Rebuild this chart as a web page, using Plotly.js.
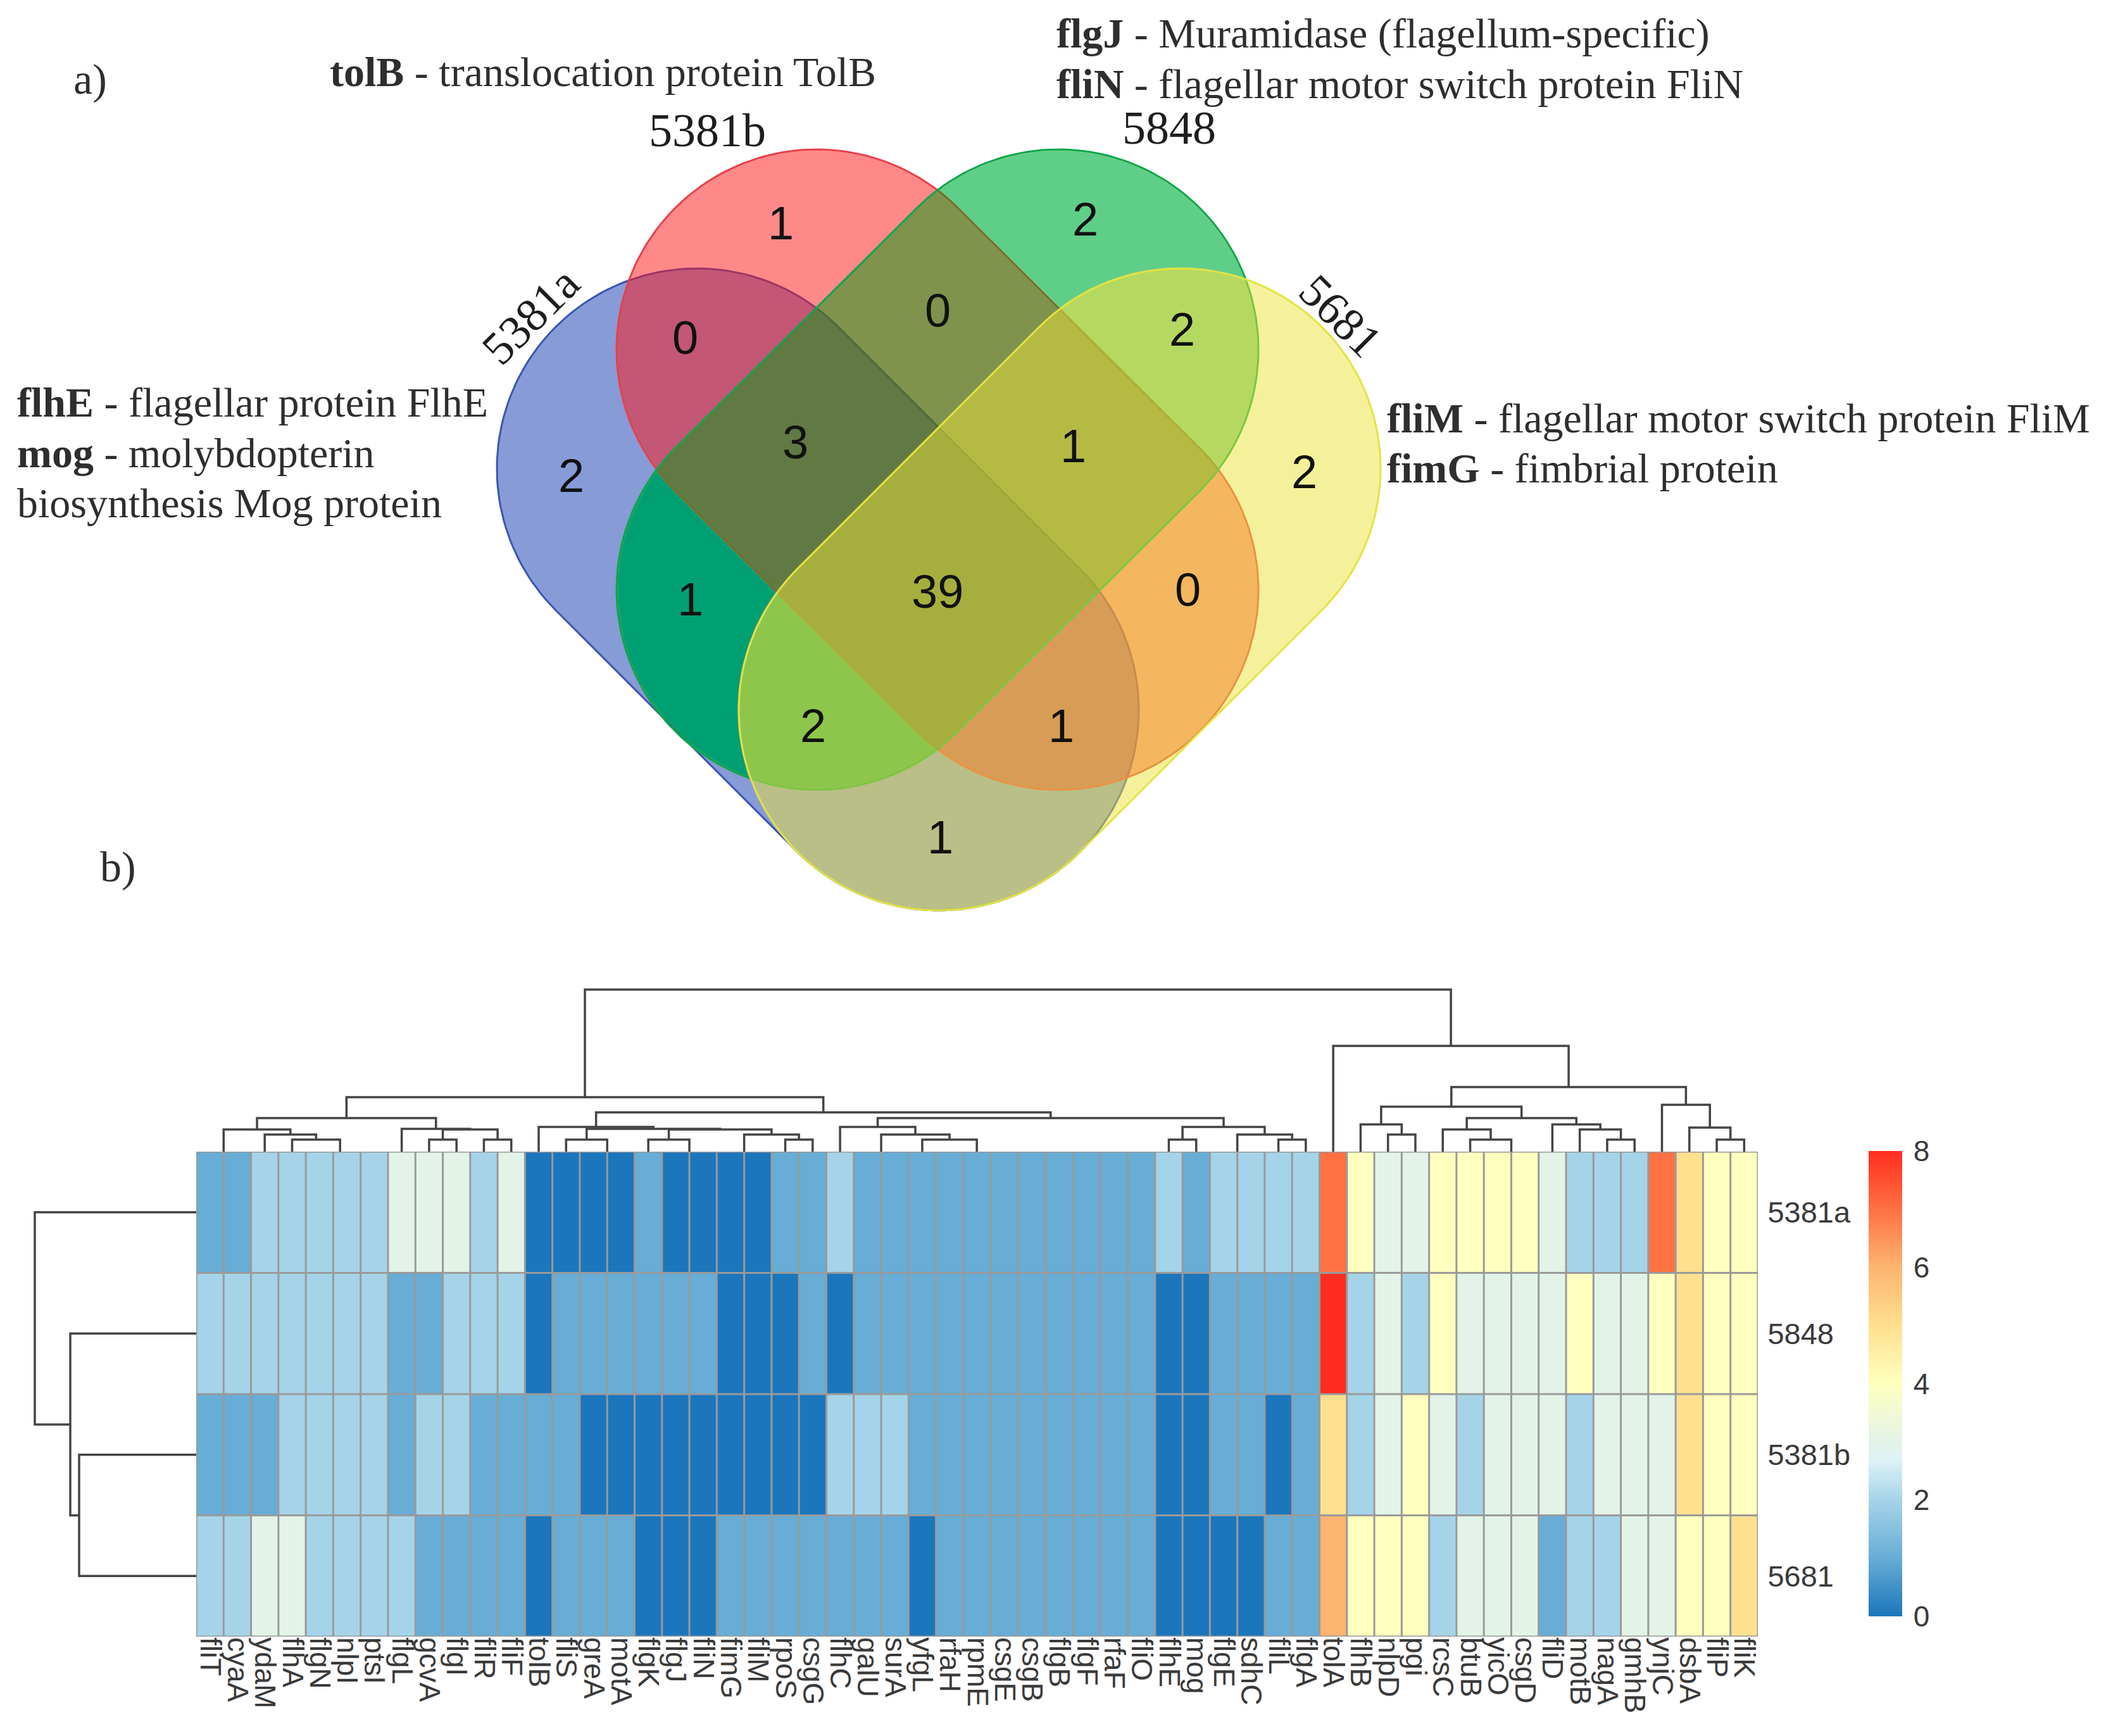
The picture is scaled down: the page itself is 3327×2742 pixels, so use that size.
<!DOCTYPE html>
<html><head><meta charset="utf-8">
<script src="https://cdn.plot.ly/plotly-3.0.1.min.js"></script>
<style>html,body{margin:0;padding:0;background:#fff}</style></head>
<body><div id="chart" style="width:3327px;height:2742px"></div>
<script>
// ---------- data ----------
const genes = ["fliT","cyaA","ydaM","flhA","flgN","nlpI","ptsI","flgL","gcvA","flgI","fliR","fliF","tolB","fliS","greA","motA","flgK","flgJ","fliN","fimG","fliM","rpoS","csgG","flhC","galU","surA","yfgL","rfaH","rpmE","csgE","csgB","flgB","flgF","rfaF","fliO","flhE","mog","flgE","sdhC","fliL","flgA","tolA","flhB","nlpD","pgi","rcsC","btuB","yicO","csgD","fliD","motB","nagA","gmhB","ynjC","dsbA","fliP","fliK"];
const strains = ["5381a","5848","5381b","5681"];
const row5381a = [1,1,2,2,2,2,2,3,3,3,2,3,0,0,0,0,1,0,0,0,0,1,1,2,1,1,1,1,1,1,1,1,1,1,1,2,1,2,2,2,2,7,4,3,3,4,4,4,4,3,2,2,2,7,5,4,4];
const row5848  = [2,2,2,2,2,2,2,1,1,2,2,2,0,1,1,1,1,1,1,0,0,0,1,0,1,1,1,1,1,1,1,1,1,1,1,0,0,1,1,1,1,8,2,3,2,4,3,3,3,3,4,3,3,4,5,4,4];
const row5381b = [1,1,1,2,2,2,2,1,2,2,1,1,1,1,0,0,0,0,0,0,0,0,0,2,2,2,1,1,1,1,1,1,1,1,1,0,0,1,1,0,1,5,2,3,4,3,2,3,3,3,2,3,3,3,5,4,4];
const row5681  = [2,2,3,3,2,2,2,2,1,1,1,1,0,1,1,1,0,0,0,1,1,1,1,1,1,1,0,1,1,1,1,1,1,1,1,0,0,0,0,1,1,6,4,4,4,2,3,3,3,1,2,2,3,3,4,4,5];

// column dendrogram, hclust encoding: negative = leaf, positive = earlier merge
const colMergeLeft  = [-1,-6,-5,-4,-3,1,-9,-11,7,-8,6,-15,-14,-18,-17,-20,-22,16,15,13,-13,-25,-34,-33,-32,-31,-30,-29,-28,-27,22,-24,-36,-38,-40,34,33,32,21,11,-44,-43,-48,-47,-46,-52,-51,-50,45,42,-56,-55,-54,50,-42,40];
const colMergeRight = [-2,-7,2,3,4,5,-10,-12,8,9,10,-16,12,-19,14,-21,-23,17,18,19,20,-26,-35,23,24,25,26,27,28,29,30,31,-37,-39,-41,35,36,37,38,39,-45,41,-49,43,44,-53,46,47,48,49,-57,51,52,53,54,55];
const colMergeHeight= [0,0,0,19,27,35,19,19,35,36,53,0,19,0,19,0,19,27,35,36,39,0,0,0,0,0,0,0,0,19,27,39,19,0,19,27,39,53,62,86,27,43,0,19,35,19,35,43,53,71,19,38,74,102,167,256];
const rowMergeLeft  = [-3,-2,-1];
const rowMergeRight = [-4,1,2];
const rowMergeHeight= [185,199,255];

const colorStops  = [0,1,2,2.7,3,4,5,6,7,8];
const colorValues = ["#1b76bc","#67add5","#a5d4e9","#dff2f6","#e3f3e8","#ffffbf","#fee08f","#fdb471","#ff7143","#ff2d1f"];
const colorTicks  = [0,2,4,6,8];

const vennCounts = ["1","0","0","2","2","2","3","1","2","1","39","0","2","1","1"];
const vennCountX = [1233,1082,1481,1714,1867,902,1256,1695,2060,1090,1481,1876,1284,1676,1485];
const vennCountY = [352,533,490,346,520,751,698,704,745,946,934,931,1146,1146,1322];

const notes = [
 ["a)",114,125,68],
 ["<b>tolB</b> - translocation protein TolB",519,113,66],
 ["<b>flgJ</b> - Muramidase (flagellum-specific)",1667,53,66],
 ["<b>fliN</b> - flagellar motor switch protein FliN",1667,132,66],
 ["<b>flhE</b> - flagellar protein FlhE",25,635,66],
 ["<b>mog</b> - molybdopterin",25,715,66],
 ["biosynthesis Mog protein",25,794,66],
 ["<b>fliM</b> - flagellar motor switch protein FliM",2189,660,66],
 ["<b>fimG</b> - fimbrial protein",2189,739,66],
 ["b)",156,1369,68]
];
const setLabels = [["5381b",1117,206,0],["5848",1847,202,0],["5381a",838,499,-45],["5681",2118,499,45]];

// ---------- venn geometry (stadiums on the page-pixel axes) ----------
const W=3327,H=2742,R=316;
const sets = {
 blue:  {a:[1101,740], b:[1483,1122], fill:"rgba(15,55,175,0.5)",  line:"#3a55b5"},
 red:   {a:[1290,552], b:[1672,931.5],fill:"rgba(255,19,19,0.5)",  line:"#e8404a"},
 green: {a:[1672,552], b:[1290,931.5],fill:"rgba(0,157,17,0.5)",   line:"#0aa84a"},
 yellow:{a:[1865,740], b:[1483,1122], fill:"rgba(235,227,55,0.5)", line:"#e3e342"}
};
const setNames=["blue","red","green","yellow"];
function stadium(s){
  const ang=Math.atan2(s.b[1]-s.a[1],s.b[0]-s.a[0]);
  const xs=[],ys=[];
  for(let i=0;i<=90;i++){const t=ang+Math.PI/2+Math.PI*i/90;xs.push(s.a[0]+R*Math.cos(t));ys.push(s.a[1]+R*Math.sin(t));}
  for(let i=0;i<=90;i++){const t=ang-Math.PI/2+Math.PI*i/90;xs.push(s.b[0]+R*Math.cos(t));ys.push(s.b[1]+R*Math.sin(t));}
  xs.push(xs[0]);ys.push(ys[0]);
  return {xs,ys};
}
function dist(s,p){
  const vx=s.b[0]-s.a[0],vy=s.b[1]-s.a[1];
  let t=((p[0]-s.a[0])*vx+(p[1]-s.a[1])*vy)/(vx*vx+vy*vy);t=Math.max(0,Math.min(1,t));
  return Math.hypot(p[0]-s.a[0]-t*vx,p[1]-s.a[1]-t*vy);
}
function rayRegion(seed,pred){
  const xs=[],ys=[];
  for(let k=0;k<=720;k++){
    const t=k/720*2*Math.PI;let r=0;
    while(r<900 && pred([seed[0]+(r+1)*Math.cos(t),seed[1]+(r+1)*Math.sin(t)])) r+=1;
    xs.push(seed[0]+r*Math.cos(t));ys.push(seed[1]+r*Math.sin(t));
  }
  return {xs,ys};
}
const traces=[];
setNames.forEach(k=>{
  const p=stadium(sets[k]);
  traces.push({type:"scatter",mode:"lines",x:p.xs,y:p.ys,xaxis:"x",yaxis:"y",fill:"toself",fillcolor:sets[k].fill,line:{color:sets[k].line,width:3},hoverinfo:"skip",showlegend:false});
});
// regions whose tint in the reference is not a plain stack of the four fills
[
 {seed:[1090,946], inside:["blue","green"], color:"rgb(0,160,115)"},
 {seed:[1714,346], inside:["green"], color:"rgb(95,206,136)"},
 {seed:[1284,1146],inside:["blue","green","yellow"], color:"rgb(142,198,76)"}
].forEach(g=>{
  const poly=rayRegion(g.seed,p=>setNames.every(k=>g.inside.includes(k)?dist(sets[k],p)<R-2:dist(sets[k],p)>R+2));
  traces.push({type:"scatter",mode:"lines",x:poly.xs,y:poly.ys,xaxis:"x",yaxis:"y",fill:"toself",fillcolor:g.color,line:{width:0,color:"rgba(0,0,0,0)"},hoverinfo:"skip",showlegend:false});
});

// ---------- heatmap ----------
const cols=genes.map((_,i)=>i), rows=strains.map((_,i)=>i);
const cs=colorStops.map((v,i)=>[v/8,colorValues[i]]);
traces.push({type:"heatmap",x:cols,y:rows,z:[row5381a,row5848,row5381b,row5681],xaxis:"x2",yaxis:"y2",zmin:0,zmax:8,colorscale:cs,hoverinfo:"skip",
  colorbar:{x:2952/W,xanchor:"left",xpad:0,y:1-1818/H,yanchor:"top",ypad:0,thickness:53,thicknessmode:"pixels",len:735,lenmode:"pixels",outlinewidth:0,
    tickvals:colorTicks,ticktext:colorTicks.map(String),ticks:"outside",ticklen:9,tickcolor:"rgba(0,0,0,0)",tickfont:{family:"Liberation Sans",size:46,color:"#3a3a3a"}}});
const gx=[],gy=[];
for(let i=0;i<=genes.length;i++){gx.push(i-.5,i-.5,null);gy.push(-.5,strains.length-.5,null);}
for(let j=0;j<=strains.length;j++){gx.push(-.5,genes.length-.5,null);gy.push(j-.5,j-.5,null);}
traces.push({type:"scatter",mode:"lines",x:gx,y:gy,xaxis:"x2",yaxis:"y2",cliponaxis:false,line:{color:"#9a9a9a",width:3},hoverinfo:"skip",showlegend:false});

// ---------- dendrograms ----------
function dendro(L,Rt,Ht){
  const pos=[],p=[],h=[];
  L.forEach((l,i)=>{
    const r=Rt[i];
    const pl=l<0?-l-1:pos[l-1], pr=r<0?-r-1:pos[r-1];
    const hl=l<0?0:Ht[l-1], hr=r<0?0:Ht[r-1];
    pos.push((pl+pr)/2);
    if(Ht[i]>0){p.push(pl,pl,pr,pr,null);h.push(hl,Ht[i],Ht[i],hr,null);}
  });
  return {p,h};
}
const dc=dendro(colMergeLeft,colMergeRight,colMergeHeight);
traces.push({type:"scatter",mode:"lines",x:dc.p,y:dc.h,xaxis:"x2",yaxis:"y3",cliponaxis:false,line:{color:"#444",width:3.5},hoverinfo:"skip",showlegend:false});
const dr=dendro(rowMergeLeft,rowMergeRight,rowMergeHeight);
traces.push({type:"scatter",mode:"lines",x:dr.h,y:dr.p,xaxis:"x3",yaxis:"y2",cliponaxis:false,line:{color:"#444",width:3.5},hoverinfo:"skip",showlegend:false});

// ---------- text ----------
const ann=[];
vennCounts.forEach((t,i)=>ann.push({text:t,x:vennCountX[i],y:vennCountY[i],xref:"x",yref:"y",showarrow:false,xanchor:"center",yanchor:"middle",font:{family:"Liberation Sans",size:74,color:"#111"}}));
notes.forEach(n=>ann.push({text:n[0],x:n[1],y:n[2],xref:"x",yref:"y",showarrow:false,xanchor:"left",yanchor:"middle",align:"left",font:{family:"Liberation Serif",size:n[3],color:"#2e2e2e"}}));
setLabels.forEach(n=>ann.push({text:n[0],x:n[1],y:n[2],xref:"x",yref:"y",showarrow:false,xanchor:"center",yanchor:"middle",textangle:n[3],font:{family:"Liberation Serif",size:74,color:"#1e1e1e"}}));

const hidden={visible:false,showgrid:false,zeroline:false};
const layout={
  width:W,height:H,margin:{l:0,r:0,t:0,b:0,pad:0,autoexpand:false},paper_bgcolor:"#fff",plot_bgcolor:"rgba(0,0,0,0)",showlegend:false,
  xaxis:{...hidden,domain:[0,1],range:[0,W],anchor:"y"},
  yaxis:{...hidden,domain:[0,1],range:[H,0],anchor:"x"},
  xaxis2:{domain:[310/W,2777/W],range:[-.5,genes.length-.5],anchor:"y2",side:"bottom",tickmode:"array",tickvals:cols,ticktext:genes,tickangle:90,ticks:"",showgrid:false,zeroline:false,showline:false,tickfont:{family:"Liberation Sans",size:46,color:"#3a3a3a"}},
  yaxis2:{domain:[1-2585/H,1-1819/H],range:[strains.length-.5,-.5],anchor:"x2",side:"right",tickmode:"array",tickvals:rows,ticktext:strains,ticks:"outside",ticklen:5,tickcolor:"rgba(0,0,0,0)",showgrid:false,zeroline:false,showline:false,tickfont:{family:"Liberation Sans",size:47,color:"#3a3a3a"}},
  yaxis3:{...hidden,domain:[1-1819/H,1-1559/H],range:[0,260],anchor:"x2"},
  xaxis3:{...hidden,domain:[0,310/W],range:[310,0],anchor:"y2"},
  annotations:ann
};
Plotly.newPlot("chart",traces,layout,{displayModeBar:false,responsive:false});
</script></body></html>
